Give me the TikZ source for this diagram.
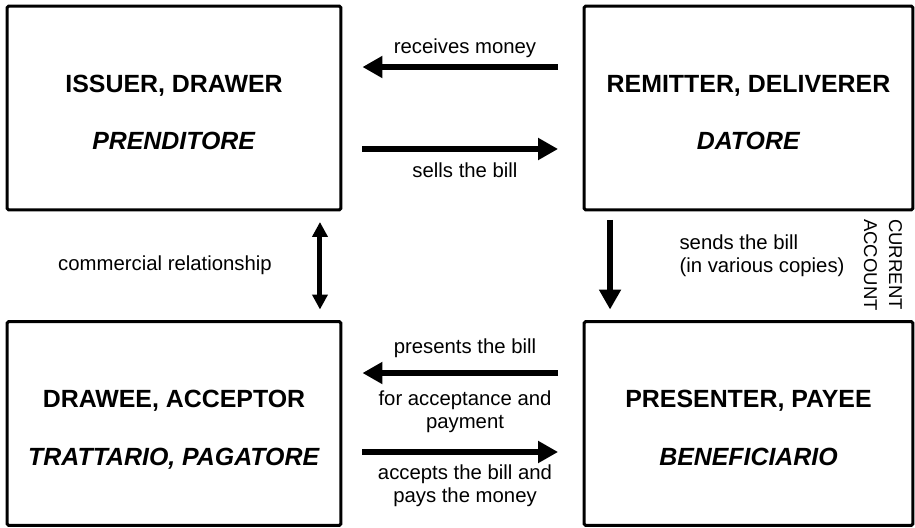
\documentclass[tikz,border=0pt]{standalone}
\usepackage{fontspec}
\setmainfont{Liberation Sans}
\usetikzlibrary{arrows.meta}

\begin{document}
\begin{tikzpicture}[
x=0.02cm, y=-0.02cm,
party/.style={draw, line width=1.7pt, rounded corners=1pt, minimum height=4.08cm, align=center, text height=1.68cm, text depth=0pt, font=\fontsize{14.17}{32.9}\selectfont\bfseries},
note/.style={align=center, inner sep=0pt, font=\fontsize{11.57}{13.04}\selectfont},
flow/.style={-{Triangle[length=0.4cm, width=0.42cm]}, line width=0.12cm},
link/.style={{Triangle[length=0.3cm, width=0.3cm]}-{Triangle[length=0.3cm, width=0.3cm]}, line width=0.1cm}
]
\useasboundingbox (0,0) rectangle (915,527);

% the four parties
\node[party, minimum width=6.68cm] (issuer) at (174,108) {ISSUER, DRAWER\\\textit{PRENDITORE}};
\node[party, minimum width=6.58cm] (remitter) at (748.5,108) {REMITTER, DELIVERER\\\textit{DATORE}};
\node[party, minimum width=6.68cm] (drawee) at (174,423.5) {DRAWEE, ACCEPTOR\\\textit{TRATTARIO, PAGATORE}};
\node[party, minimum width=6.58cm] (payee) at (748.5,423.5) {PRESENTER, PAYEE\\\textit{BENEFICIARIO}};

% labels
\node[note] (recvlbl) at (465,48) {receives money};
\node[note] (selllbl) at (465,170) {sells the bill};
\node[note] (commlbl) at (165,265) {commercial relationship};
\node[note, align=left] (sendlbl) at (762,256) {sends the bill\\(in various copies)};
\node[note, align=left, rotate=-90, font=\fontsize{10.55}{14.17}\selectfont] (acctlbl) at (883,265) {CURRENT\\ACCOUNT};
\node[note] (preslbl) at (465,348) {presents the bill};
\node[note] (forlbl) at (465,412) {for acceptance and\\payment};
\node[note] (paidlbl) at (465,486) {accepts the bill and\\pays the money};

% flows
\draw[flow, shorten <=0.49cm, shorten >=0.4cm] ([yshift=0.82cm]remitter.west) -- ([yshift=0.82cm]issuer.east);
\draw[flow, shorten <=0.4cm, shorten >=0.49cm] ([yshift=-0.82cm]issuer.east) -- ([yshift=-0.82cm]remitter.west);
\draw[link, shorten <=0.21cm, shorten >=0.21cm] ([xshift=-0.45cm]issuer.south east) -- ([xshift=-0.45cm]drawee.north east);
\draw[flow, shorten <=0.17cm, shorten >=0.21cm] ([xshift=0.55cm]remitter.south west) -- ([xshift=0.55cm]payee.north west);
\draw[flow, shorten <=0.49cm, shorten >=0.4cm] ([yshift=1.01cm]payee.west) -- ([yshift=1.01cm]drawee.east);
\draw[flow, shorten <=0.4cm, shorten >=0.49cm] ([yshift=-0.57cm]drawee.east) -- ([yshift=-0.57cm]payee.west);
\end{tikzpicture}
\end{document}
